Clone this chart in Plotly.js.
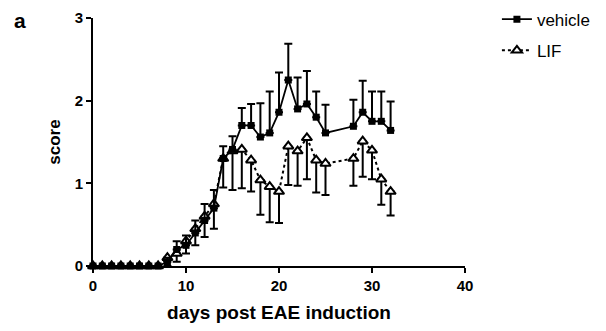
<!DOCTYPE html>
<html>
<head>
<meta charset="utf-8">
<script src="https://cdn.plot.ly/plotly-3.0.1.min.js"></script>
<style>html,body{margin:0;padding:0;background:#fff;}#chart{width:606px;height:331px;}</style>
</head>
<body>
<div id="chart"></div>
<script>
const days = [0,1,2,3,4,5,6,7,8,9,10,11,12,13,14,15,16,17,18,19,20,21,22,23,24,25,28,29,30,31,32];
const vehicleMean = [0,0,0,0,0,0,0,0,0.05,0.2,0.25,0.4,0.55,0.7,1.3,1.41,1.70,1.70,1.56,1.61,1.86,2.25,1.90,1.96,1.80,1.61,1.69,1.86,1.75,1.75,1.64];
const vehicleSem  = [0,0,0,0,0,0,0,0,0.05,0.1,0.12,0.15,0.2,0.22,0.15,0.16,0.21,0.26,0.41,0.50,0.48,0.44,0.38,0.40,0.31,0.34,0.32,0.38,0.36,0.36,0.35];
const lifMean = [0,0,0,0,0,0,0,0,0.1,0.15,0.3,0.45,0.6,0.75,1.3,1.39,1.41,1.28,1.04,0.96,0.90,1.45,1.39,1.55,1.28,1.24,1.30,1.51,1.40,1.05,0.90];
const lifSem  = [0,0,0,0,0,0,0,0,0.1,0.1,0.15,0.2,0.25,0.3,0.35,0.47,0.47,0.38,0.42,0.43,0.38,0.47,0.42,0.50,0.39,0.38,0.33,0.43,0.35,0.31,0.29];
const seriesNames = ['vehicle','LIF'];
const xTicks = [0,10,20,30,40];
const yTicks = [0,1,2,3];
const zeros = days.map(() => 0);

const FONT = 'Arial, "Liberation Sans", sans-serif';

const traces = [
  {
    x: days, y: lifMean, name: seriesNames[1], type: 'scatter', mode: 'lines+markers',
    legendrank: 2, legendgroup: 'b', cliponaxis: false,
    line: {color: '#000', width: 2, dash: '3px,3px'},
    marker: {symbol: 'triangle-up', size: 9, color: '#fff', line: {color: '#000', width: 2}},
    error_y: {type: 'data', symmetric: false, array: zeros, arrayminus: lifSem, color: '#000', thickness: 2, width: 4}
  },
  {
    x: days, y: vehicleMean, name: seriesNames[0], type: 'scatter', mode: 'lines+markers',
    legendrank: 1, legendgroup: 'a', cliponaxis: false,
    line: {color: '#000', width: 1.8},
    marker: {symbol: 'square', size: 7, color: '#000'},
    error_y: {type: 'data', symmetric: false, array: vehicleSem, arrayminus: zeros, color: '#000', thickness: 2, width: 4}
  }
];

const layout = {
  width: 606, height: 331,
  margin: {l: 93, r: 141, t: 18, b: 65, autoexpand: false},
  paper_bgcolor: '#fff', plot_bgcolor: '#fff',
  showlegend: true,
  legend: {xref: 'container', yref: 'container', x: 0.82, y: 0.995, xanchor: 'left', yanchor: 'top',
           traceorder: 'grouped', tracegroupgap: 6,
           font: {family: FONT, size: 17, color: '#000'}, bgcolor: 'rgba(0,0,0,0)'},
  xaxis: {
    range: [0, 40], tickvals: xTicks, ticktext: xTicks.map(String), automargin: false,
    showline: true, linecolor: '#000', linewidth: 2, ticks: 'outside', ticklen: 5, tickwidth: 2, tickcolor: '#000',
    showgrid: false, zeroline: false,
    tickfont: {family: FONT, size: 15, color: '#000', weight: 'bold'},
    title: {text: 'days post EAE induction', font: {family: FONT, size: 19, color: '#000', weight: 'bold'}, standoff: 13}
  },
  yaxis: {
    range: [0, 3], tickvals: yTicks, ticktext: yTicks.map(String), automargin: false,
    showline: true, linecolor: '#000', linewidth: 2, ticks: 'outside', ticklen: 5, tickwidth: 2, tickcolor: '#000',
    showgrid: false, zeroline: false,
    tickfont: {family: FONT, size: 15, color: '#000', weight: 'bold'},
    title: {text: 'score', font: {family: FONT, size: 17, color: '#000', weight: 'bold'}, standoff: 10}
  },
  annotations: [
    {text: 'a', xref: 'paper', yref: 'paper', x: -0.195, y: 0.99, xanchor: 'center', yanchor: 'middle', showarrow: false,
     font: {family: FONT, size: 21, color: '#000', weight: 'bold'}}
  ]
};

Plotly.newPlot('chart', traces, layout, {displayModeBar: false, staticPlot: true});
</script>
</body>
</html>
